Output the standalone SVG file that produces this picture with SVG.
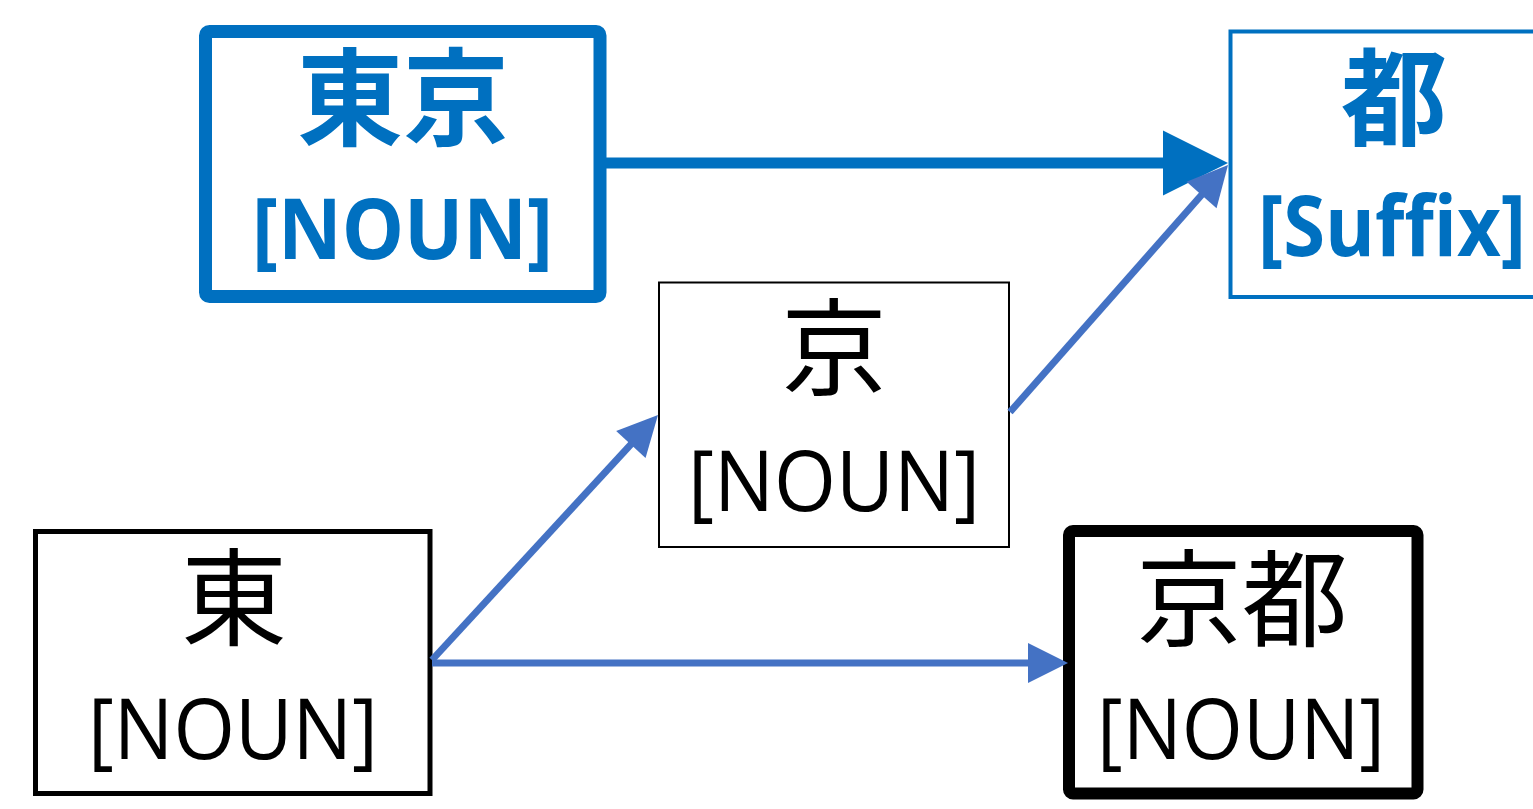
<svg xmlns="http://www.w3.org/2000/svg" width="1533" height="809" viewBox="0 0 1533 809">
  <style>
    .box { fill: #FFFFFF; }
    .cjk { font-family: "Noto Sans CJK JP", "Noto Sans CJK SC", sans-serif; font-size: 106px; text-anchor: middle; }
    .lat { font-family: "Open Sans", "Noto Sans", sans-serif; font-size: 84px; }
    .blue { fill: #0070C0; font-weight: bold; }
    .black { fill: #000000; }
    .conn { stroke: #4472C4; stroke-width: 7; fill: none; }
    .main { stroke: #0070C0; stroke-width: 11; fill: none; }
  </style>
  <defs>
    <marker id="headBig" markerUnits="userSpaceOnUse" markerWidth="66" markerHeight="66" refX="17" refY="32.5" orient="auto" viewBox="0 0 66 66" overflow="visible">
      <path d="M0,0 L65,32.5 L0,65 Z" fill="#0070C0"/>
    </marker>
    <marker id="head" markerUnits="userSpaceOnUse" markerWidth="41" markerHeight="41" refX="30" refY="20" orient="auto" viewBox="0 0 41 41" overflow="visible">
      <path d="M0,0 L40,20 L0,40 Z" fill="#4472C4"/>
    </marker>
  </defs>

  <rect width="1533" height="809" fill="#FFFFFF"/>

  <g id="node-tokyo">
    <rect class="box" x="205.5" y="31.5" width="394.5" height="265" rx="4" stroke="#0070C0" stroke-width="13"/>
    <text class="cjk blue" x="403" y="137">東京</text>
    <text class="lat blue" x="252" y="259" textLength="301" lengthAdjust="spacingAndGlyphs">[NOUN]</text>
  </g>

  <g id="node-to-suffix">
    <rect class="box" x="1230.5" y="31.5" width="400" height="265.5" stroke="#0070C0" stroke-width="4"/>
    <text class="cjk blue" x="1394" y="137">都</text>
    <text class="lat blue" x="1258" y="256" textLength="268" lengthAdjust="spacingAndGlyphs">[Suffix]</text>
  </g>

  <g id="node-kyo">
    <rect class="box" x="659" y="282.5" width="350" height="264.5" stroke="#000000" stroke-width="2"/>
    <text class="cjk black" x="834" y="387">京</text>
    <text class="lat black" x="688" y="511" textLength="292" lengthAdjust="spacingAndGlyphs">[NOUN]</text>
  </g>

  <g id="node-higashi">
    <rect class="box" x="35.5" y="531.5" width="394.5" height="262" stroke="#000000" stroke-width="5"/>
    <text class="cjk black" x="234" y="637">東</text>
    <text class="lat black" x="88" y="759" textLength="290" lengthAdjust="spacingAndGlyphs">[NOUN]</text>
  </g>

  <g id="node-kyoto">
    <rect class="box" x="1069" y="531" width="348.5" height="262.5" rx="4" stroke="#000000" stroke-width="12"/>
    <text class="cjk black" x="1242" y="638">京都</text>
    <text class="lat black" x="1097" y="759" textLength="288" lengthAdjust="spacingAndGlyphs">[NOUN]</text>
  </g>

  <g id="connectors">
    <line class="main" x1="606" y1="163" x2="1180" y2="163" marker-end="url(#headBig)"/>
    <line class="conn" x1="1010" y1="412" x2="1221.4" y2="172.5" marker-end="url(#head)"/>
    <line class="conn" x1="432" y1="660" x2="651.2" y2="422.4" marker-end="url(#head)"/>
    <line class="conn" x1="432" y1="663" x2="1058" y2="663" marker-end="url(#head)"/>
  </g>
</svg>
